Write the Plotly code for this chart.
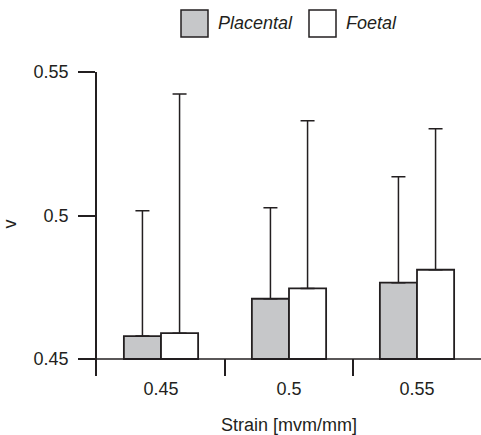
import plotly.graph_objects as go

categories = ["0.45", "0.5", "0.55"]
series_names = ["Placental", "Foetal"]
placental = [0.458, 0.471, 0.4766]
foetal = [0.459, 0.4746, 0.4811]
placental_err = [0.0437, 0.0317, 0.0369]
foetal_err = [0.0833, 0.0584, 0.0491]
y_ticks = [0.45, 0.5, 0.55]
y_tick_labels = ["0.45", "0.5", "0.55"]

BASE = 0.45
INK = "#231f20"
GRAY = "#c6c7c9"
FONT = "Liberation Sans, Arial, sans-serif"

fig = go.Figure()
for name, vals, errs, color in [
    (series_names[0], placental, placental_err, GRAY),
    (series_names[1], foetal, foetal_err, "#ffffff"),
]:
    fig.add_trace(go.Bar(
        name=name,
        x=categories,
        y=[v - BASE for v in vals],
        base=BASE,
        marker=dict(color=color, line=dict(color=INK, width=1.8)),
        error_y=dict(type="data", symmetric=False, array=errs,
                     arrayminus=[0] * len(errs), color=INK,
                     thickness=1.5, width=7),
        showlegend=False,
    ))

# baseline at 0.45
fig.add_shape(type="line", xref="paper", yref="y", x0=0, x1=1, y0=BASE, y1=BASE,
              line=dict(color=INK, width=1.5), layer="above")

# legend drawn as boxes + text
legend_items = [(series_names[0], GRAY, 181, 208, 216), (series_names[1], "#ffffff", 309, 336, 344)]
W, H = 481, 435
L, R, T, B = 97, 0, 72, 59
pw, ph = W - L - R, H - T - B
def px_x(p):
    return (p - L) / pw
def px_y(p):
    return (H - B - p) / ph
for name, col, x0, x1, tx in legend_items:
    fig.add_shape(type="rect", xref="paper", yref="paper",
                  x0=px_x(x0), x1=px_x(x1), y0=px_y(37), y1=px_y(10),
                  fillcolor=col, line=dict(color=INK, width=1.5))
    fig.add_annotation(xref="paper", yref="paper", x=px_x(tx), y=px_y(23.5),
                       xanchor="left", yanchor="middle", showarrow=False,
                       text="<i>%s</i>" % name, font=dict(size=18, color=INK, family=FONT))

fig.update_layout(
    width=W, height=H,
    margin=dict(l=L, r=R, t=T, b=B, pad=0),
    paper_bgcolor="white", plot_bgcolor="white",
    barmode="group", bargap=0.42, bargroupgap=0,
    font=dict(family=FONT, size=18, color=INK),
    xaxis=dict(
        type="category",
        tickson="boundaries", ticks="inside", ticklen=17, tickwidth=1.5, tickcolor=INK,
        tickfont=dict(size=18),
        showline=False, showgrid=False, zeroline=False,
        title=dict(text="Strain [mvm/mm]", standoff=20, font=dict(size=18)),
        range=[-0.5, 2.5],
    ),
    yaxis=dict(
        range=[0.44408, 0.55],
        tickvals=y_ticks, ticktext=y_tick_labels,
        ticks="outside", ticklen=17, tickwidth=1.5, tickcolor=INK,
        tickfont=dict(size=18),
        showline=True, linecolor=INK, linewidth=1.5,
        showgrid=False, zeroline=False,
        ticklabelstandoff=6,
        title=dict(text="v", standoff=17, font=dict(size=18)),
    ),
)

fig.write_html("out.html")
